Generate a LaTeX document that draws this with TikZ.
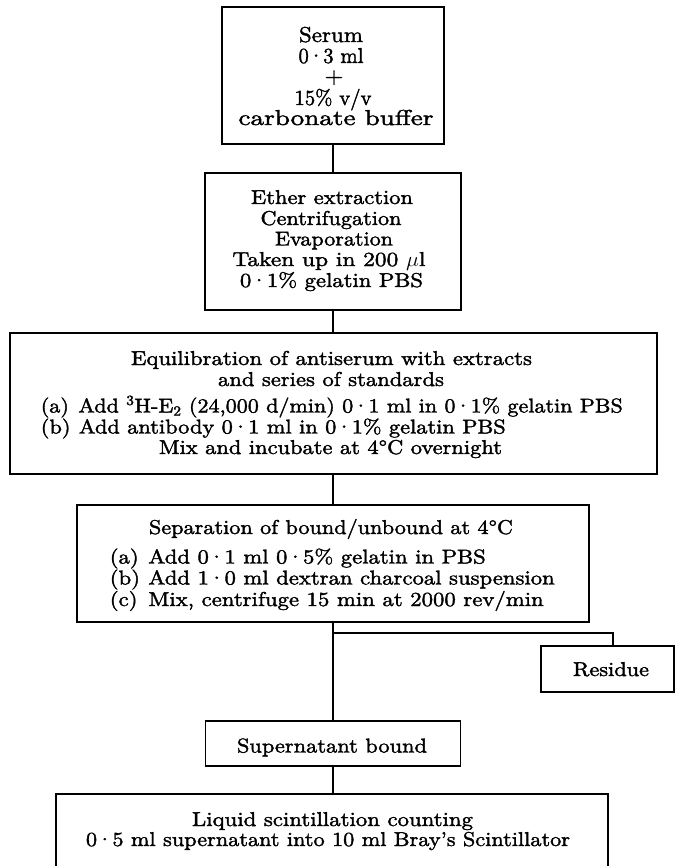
\documentclass[tikz,border=0pt]{standalone}
\usepackage{graphicx}
\usepackage{fontspec}
\setmainfont{lmroman10-regular.otf}[FakeStretch=1.115, FakeBold=1.8]
\newcommand{\cd}{\kern-1pt·\kern-1pt}
\newcommand{\fitw}[2]{\resizebox{#1pt}{\height}{#2}}
\begin{document}
\begin{tikzpicture}[x=1pt, y=-1pt, line width=1.5pt,
  box/.style={draw, rectangle, inner sep=0pt, outer sep=0pt},
  txt/.style={anchor=base, inner sep=0pt, font=\fontsize{20}{22}\selectfont},
  bigtxt/.style={txt, font=\fontsize{21.5}{23}\selectfont},
  ltxt/.style={anchor=base west, inner sep=0pt, font=\fontsize{20}{22}\selectfont},
  link/.style={line width=1.5pt}]
\useasboundingbox (0,0) rectangle (675,866);
\clip (0,0) rectangle (675,866);
% boxes
\node[box, minimum width=222pt, minimum height=137pt] (b1) at (333,75.5) {};
\node[box, minimum width=256pt, minimum height=137pt] (b2) at (333,241.5) {};
\node[box, minimum width=647pt, minimum height=141pt] (b3) at (333.5,403.5) {};
\node[box, minimum width=512pt, minimum height=117pt] (b4) at (333,563.5) {};
\node[box, minimum width=133pt, minimum height=46pt] (res) at (607.5,669) {};
\node[box, minimum width=255pt, minimum height=45pt] (sup) at (333,743.5) {};
\node[box, minimum width=552pt, minimum height=106pt] (last) at (332,847) {};
% box 1 text
\node[bigtxt] (t1a) at (331,42) {\fitw{64}{Serum}};
\node[bigtxt] (t1b) at (331,63) {\fitw{65}{0\cd3 ml}};
\node[bigtxt] (t1c) at (334,83) {+};
\node[bigtxt] (t1d) at (333,105) {\fitw{77}{15\% v/v}};
\node[bigtxt] (t1e) at (336,125) {\fitw{195}{carbonate buffer}};
% box 2 text
\node[txt] (t2a) at (332,204) {\fitw{162}{Ether extraction}};
\node[txt] (t2b) at (331,225) {\fitw{141}{Centrifugation}};
\node[txt] (t2c) at (334,245.5) {\fitw{118}{Evaporation}};
\node[txt] (t2d) at (329,266) {\fitw{193}{Taken up in 200 $\mu$l}};
\node[txt] (t2e) at (331.5,287) {\fitw{183}{0\cd1\% gelatin PBS}};
% box 3 text
\node[txt] (t3a) at (331.5,365) {\fitw{401}{Equilibration of antiserum with extracts}};
\node[txt] (t3b) at (331,386) {\fitw{226}{and series of standards}};
\node[ltxt] (t3c) at (40,412.5) {\fitw{582}{\makebox[38pt][l]{(a)}Add \textsuperscript{3}H-E\textsubscript{2} (24,000 d/min) 0\cd1 ml in 0\cd1\% gelatin PBS}};
\node[ltxt] (t3d) at (40,433.5) {\fitw{465}{\makebox[38pt][l]{(b)}Add antibody 0\cd1 ml in 0\cd1\% gelatin PBS}};
\node[txt] (t3e) at (330.5,454) {\fitw{343}{Mix and incubate at 4°C overnight}};
% box 4 text
\node[txt] (t4a) at (331,534) {\fitw{364}{Separation of bound/unbound at 4°C}};
\node[ltxt] (t4b) at (109,563.5) {\fitw{376}{\makebox[38pt][l]{(a)}Add 0\cd1 ml 0\cd5\% gelatin in PBS}};
\node[ltxt] (t4c) at (109,584.5) {\fitw{445}{\makebox[38pt][l]{(b)}Add 1\cd0 ml dextran charcoal suspension}};
\node[ltxt] (t4d) at (109,606) {\fitw{434}{\makebox[38pt][l]{(c)}Mix, centrifuge 15 min at 2000 rev/min}};
% residue / supernatant / last
\node[txt] (tres) at (611,676) {\fitw{76}{Residue}};
\node[txt] (tsup) at (332,752.5) {\fitw{190}{Supernatant bound}};
\node[txt] (tla) at (332.5,826) {\fitw{281}{Liquid scintillation counting}};
\node[txt] (tlb) at (328,846) {\fitw{484}{0\cd5 ml supernatant into 10 ml Bray's Scintillator}};
% connectors
\coordinate (split) at (333,633);
\draw[link] (b1.south) -- (b1.south |- b2.north);
\draw[link] (b2.south) -- (b2.south |- b3.north);
\draw[link] (b3.south -| b4.south) -- (b4.north);
\draw[link] (b4.south) -- (split);
\draw[link] (split) -| ([xshift=5.5pt]res.north);
\draw[link] (split) -- (split |- sup.north);
\draw[link] (sup.south) -- (sup.south |- last.north);
\end{tikzpicture}
\end{document}
